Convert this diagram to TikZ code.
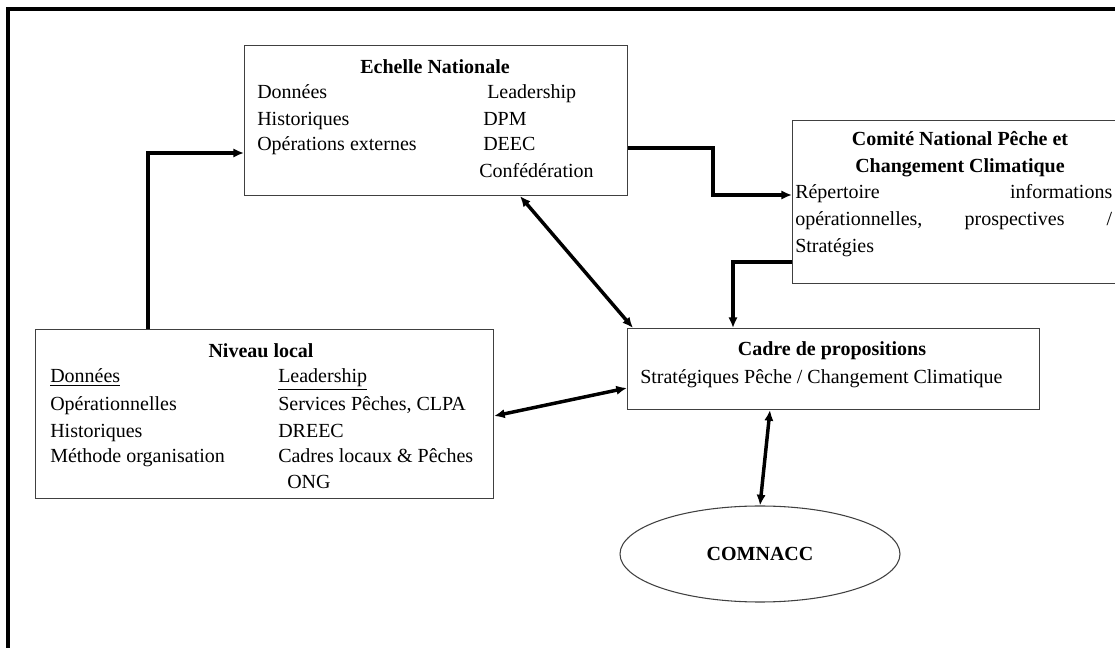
\documentclass[tikz,border=0pt]{standalone}
\usepackage{fontspec}
\setmainfont{Liberation Serif}
\usetikzlibrary{arrows.meta,shapes.geometric}

\begin{document}
\begin{tikzpicture}[x=0.75pt,y=-0.75pt,
	box/.style={draw=black!75, line width=0.8pt, rectangle, inner sep=0pt, anchor=north west},
	txt/.style={inner sep=0pt, font=\fontsize{15}{18}\selectfont},
	ttl/.style={inner sep=0pt, font=\fontsize{15}{18}\selectfont\bfseries},
	conn/.style={line width=2.6pt, >={Latex[length=8pt,width=7pt]}}]
	\useasboundingbox (0,0) rectangle (1115,648);
	\draw[line width=2.3pt] (8,9) rectangle (1130,665);

	% boxes
	\node (natl)   at (244,45)  [box, minimum width=287.25pt, minimum height=112.5pt]  {};
	\node (comite) at (792,120) [box, minimum width=252pt,    minimum height=122.25pt] {};
	\node (local)  at (35,329)  [box, minimum width=343.5pt,  minimum height=126.75pt] {};
	\node (cadre)  at (627,328) [box, minimum width=309pt,    minimum height=60.75pt]  {};
	\node (comnacc) at (760,554) [ellipse, draw=black!75, line width=0.8pt, minimum width=210pt, minimum height=72pt, font=\fontsize{15}{18}\selectfont\bfseries] {COMNACC};

	% echelle nationale
	\node (natlT) at (435,74)  [ttl, anchor=base] {Echelle Nationale};
	\node (natlA) at (257,99)  [txt, anchor=base west] {Données};
	\node (natlB) at (257,126) [txt, anchor=base west] {Historiques};
	\node (natlC) at (257,151) [txt, anchor=base west] {Opérations externes};
	\node (natlD) at (487,99)  [txt, anchor=base west] {Leadership};
	\node (natlE) at (483,126) [txt, anchor=base west] {DPM};
	\node (natlF) at (483,151) [txt, anchor=base west] {DEEC};
	\node (natlG) at (479,178) [txt, anchor=base west] {Confédération};

	% comite national
	\node (comT1) at (960,146) [ttl, anchor=base] {Comité National Pêche et};
	\node (comT2) at (960,173) [ttl, anchor=base] {Changement Climatique};
	\node (comA)  at (795,199) [txt, anchor=base west] {\makebox[237.75pt][s]{Répertoire\hfill informations}};
	\node (comB)  at (795,226) [txt, anchor=base west] {\makebox[237.75pt][s]{opérationnelles,\hfill prospectives\hfill /}};
	\node (comC)  at (795,253) [txt, anchor=base west] {Stratégies};

	% niveau local
	\node (locT) at (261,358) [ttl, anchor=base] {Niveau local};
	\node (locA) at (50,383)  [txt, anchor=base west] {\underline{Données}};
	\node (locB) at (50,411)  [txt, anchor=base west] {Opérationnelles};
	\node (locC) at (50,438)  [txt, anchor=base west] {Historiques};
	\node (locD) at (50,463)  [txt, anchor=base west] {Méthode organisation};
	\node (locE) at (278,383) [txt, anchor=base west] {\underline{Leadership}};
	\node (locF) at (278,411) [txt, anchor=base west] {Services Pêches, CLPA};
	\node (locG) at (278,438) [txt, anchor=base west] {DREEC};
	\node (locH) at (278,463) [txt, anchor=base west] {Cadres locaux \& Pêches};
	\node (locI) at (287,489) [txt, anchor=base west] {ONG};

	% cadre de propositions
	\node (cadT) at (832,356) [ttl, anchor=base] {Cadre de propositions};
	\node (cadA) at (640,384) [txt, anchor=base west] {Stratégiques Pêche / Changement Climatique};

	% connectors
	\coordinate (a1) at (148,153);
	\coordinate (b1) at (713,148);
	\coordinate (b2) at (713,195);
	\coordinate (c1) at (733,262);
	\coordinate (d1) at (520,0);
	\coordinate (d2) at (633,0);
	\coordinate (e1) at (0,416);
	\coordinate (e2) at (0,388);
	\coordinate (f1) at (770,0);
	\draw[conn,->] (local.north -| a1) -- (a1) -- (natl.west |- a1);
	\draw[conn,->] (natl.east |- b1) -- (b1) -- (b2) -- (comite.west |- b2);
	\draw[conn,->] (comite.west |- c1) -- (c1) -- (cadre.north -| c1);
	\draw[conn,<->] (natl.south -| d1) -- (cadre.north -| d2);
	\draw[conn,<->] (local.east |- e1) -- (cadre.west |- e2);
	\draw[conn,<->] (cadre.south -| f1) -- (comnacc.north);
\end{tikzpicture}
\end{document}
